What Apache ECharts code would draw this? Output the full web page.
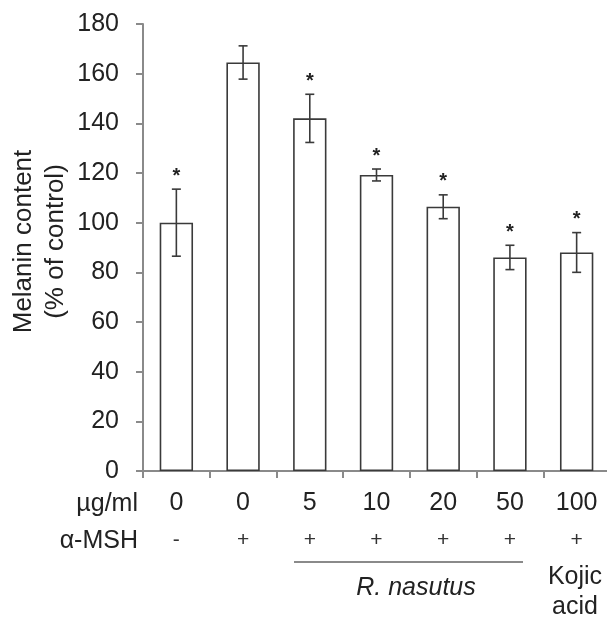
<!DOCTYPE html>
<html>
<head>
<meta charset="utf-8">
<script src="https://cdn.jsdelivr.net/npm/echarts@6/dist/echarts.min.js"></script>
<style>
  html, body { margin: 0; padding: 0; background: #fff; }
  #chart { width: 607px; height: 618px; }
</style>
</head>
<body>
<div id="chart"></div>
<script>
// values
const doses = ['0', '0', '5', '10', '20', '50', '100'];
const mshSigns = ['-', '+', '+', '+', '+', '+', '+'];
const means = [100, 164.5, 142, 119.2, 106.4, 86, 88];
const errors = [13.5, 6.7, 9.7, 2.4, 4.8, 4.9, 8];
const significant = [true, false, true, true, true, true, true];
const yTicks = { min: 0, max: 180, interval: 20 };

const FONT = '"Liberation Sans", Arial, sans-serif';
const TEXT = '#222';
const AXIS = '#8a8a8a';

const chart = echarts.init(document.getElementById('chart'));

const errorData = means.map((m, i) => [i, m, errors[i], significant[i] ? 1 : 0]);

chart.setOption({
    animation: false,
    backgroundColor: '#fff',
    grid: { left: 143, top: 24, width: 467, height: 447, outerBoundsMode: 'none', containLabel: false },
    xAxis: {
        type: 'category',
        data: doses,
        axisLine: { lineStyle: { color: AXIS, width: 2 } },
        axisTick: { show: true, length: 7, lineStyle: { color: AXIS, width: 2 } },
        axisLabel: {
            margin: 14,
            interval: 0,
            formatter: (v, i) => '{d|' + v + '}\n{s|' + mshSigns[i] + '}',
            rich: {
                d: { fontSize: 25, fontFamily: FONT, color: TEXT, lineHeight: 37 },
                s: { fontSize: 21, fontFamily: FONT, color: '#333', lineHeight: 37 }
            }
        }
    },
    yAxis: {
        type: 'value',
        min: yTicks.min,
        max: yTicks.max,
        interval: yTicks.interval,
        name: 'Melanin content\n(% of control)',
        nameLocation: 'middle',
        nameRotate: 90,
        nameGap: 71,
        nameMoveOverlap: false,
        nameTextStyle: { fontSize: 26, fontFamily: FONT, color: TEXT, lineHeight: 32, padding: [0, 0, 0, 12] },
        axisLine: { show: true, lineStyle: { color: AXIS, width: 2 } },
        axisTick: { show: true, length: 7, lineStyle: { color: AXIS, width: 2 } },
        axisLabel: { fontSize: 25, fontFamily: FONT, color: TEXT, margin: 24 },
        splitLine: { show: false }
    },
    series: [
        {
            type: 'bar',
            data: means,
            barWidth: '50%',
            itemStyle: { color: '#fff', borderColor: '#3a3a3a', borderWidth: 1.6 }
        },
        {
            type: 'custom',
            data: errorData,
            z: 5,
            renderItem(params, api) {
                const idx = api.value(0);
                const m = api.value(1);
                const e = api.value(2);
                const top = api.coord([idx, m + e]);
                const bot = api.coord([idx, m - e]);
                const hw = 4.5;
                const style = { stroke: '#3a3a3a', lineWidth: 1.6 };
                const children = [
                    { type: 'line', shape: { x1: top[0], y1: top[1], x2: bot[0], y2: bot[1] }, style },
                    { type: 'line', shape: { x1: top[0] - hw, y1: top[1], x2: top[0] + hw, y2: top[1] }, style },
                    { type: 'line', shape: { x1: bot[0] - hw, y1: bot[1], x2: bot[0] + hw, y2: bot[1] }, style }
                ];
                if (api.value(3)) {
                    children.push({
                        type: 'text',
                        style: {
                            text: '*', x: top[0], y: top[1] - 13,
                            fill: '#222', font: 'bold 20px ' + FONT,
                            textAlign: 'center', textVerticalAlign: 'middle'
                        }
                    });
                }
                return { type: 'group', children };
            }
        }
    ],
    graphic: [
        { type: 'text', x: 138, y: 504, style: { text: 'µg/ml', fill: TEXT, font: '25px ' + FONT, textAlign: 'right', textVerticalAlign: 'middle' } },
        { type: 'text', x: 138, y: 541, style: { text: 'α-MSH', fill: TEXT, font: '25px ' + FONT, textAlign: 'right', textVerticalAlign: 'middle' } },
        { type: 'line', shape: { x1: 294, y1: 562, x2: 523, y2: 562 }, style: { stroke: AXIS, lineWidth: 2 } },
        { type: 'text', x: 416, y: 588, style: { text: 'R. nasutus', fill: TEXT, font: 'italic 25px ' + FONT, textAlign: 'center', textVerticalAlign: 'middle' } },
        { type: 'text', x: 575, y: 577, style: { text: 'Kojic', fill: TEXT, font: '25px ' + FONT, textAlign: 'center', textVerticalAlign: 'middle' } },
        { type: 'text', x: 575, y: 607, style: { text: 'acid', fill: TEXT, font: '25px ' + FONT, textAlign: 'center', textVerticalAlign: 'middle' } }
    ]
});
</script>
</body>
</html>
